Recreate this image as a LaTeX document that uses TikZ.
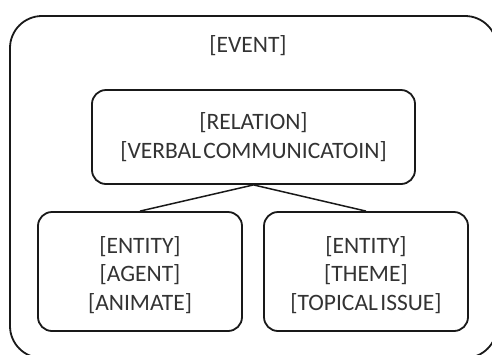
\documentclass[tikz,border=0pt]{standalone}
\usepackage{fontspec}
\setmainfont[WordSpace=0.45]{Carlito}
\newcommand{\tallstrut}{\rule{0pt}{24pt}}
\begin{document}
\begin{tikzpicture}[x=1pt,y=-1pt,
  frame/.style={draw=black!90,line width=1.8pt,rounded corners=#1},
  txt/.style={font=\fontsize{23.5}{28.5}\selectfont,text=black!80},
  box/.style={txt,draw=black!90,line width=1.8pt,rounded corners=14pt,minimum width=#1,minimum height=119pt,inner sep=0pt,align=center},
  link/.style={draw=black!90,line width=1.5pt}]
\useasboundingbox (0,0) rectangle (492,354);
\clip (0,0) rectangle (492,354);
% outer event frame, running past the right and bottom edges
\draw[frame=32pt] (10,16) rectangle (497,358);
\node[txt] (event) at (248,46) {[EVENT]};
% relation box
\node[box=323pt,minimum height=94pt] (rel) at (253.5,137) {{[RELATION]}\\{[VERBAL COMMUNICATOIN]}};
% entity boxes
\node[box=204pt] (agent) at (140,271.5) {{\tallstrut[ENTITY]}\\{[AGENT]}\\{[ANIMATE]}};
\node[box=204pt] (theme) at (366,271.5) {{\tallstrut[ENTITY]}\\{[THEME]}\\{[TOPICAL ISSUE]}};
% connectors
\draw[link] (rel.south) -- (agent.north);
\draw[link] (rel.south) -- (theme.north);
\end{tikzpicture}
\end{document}
